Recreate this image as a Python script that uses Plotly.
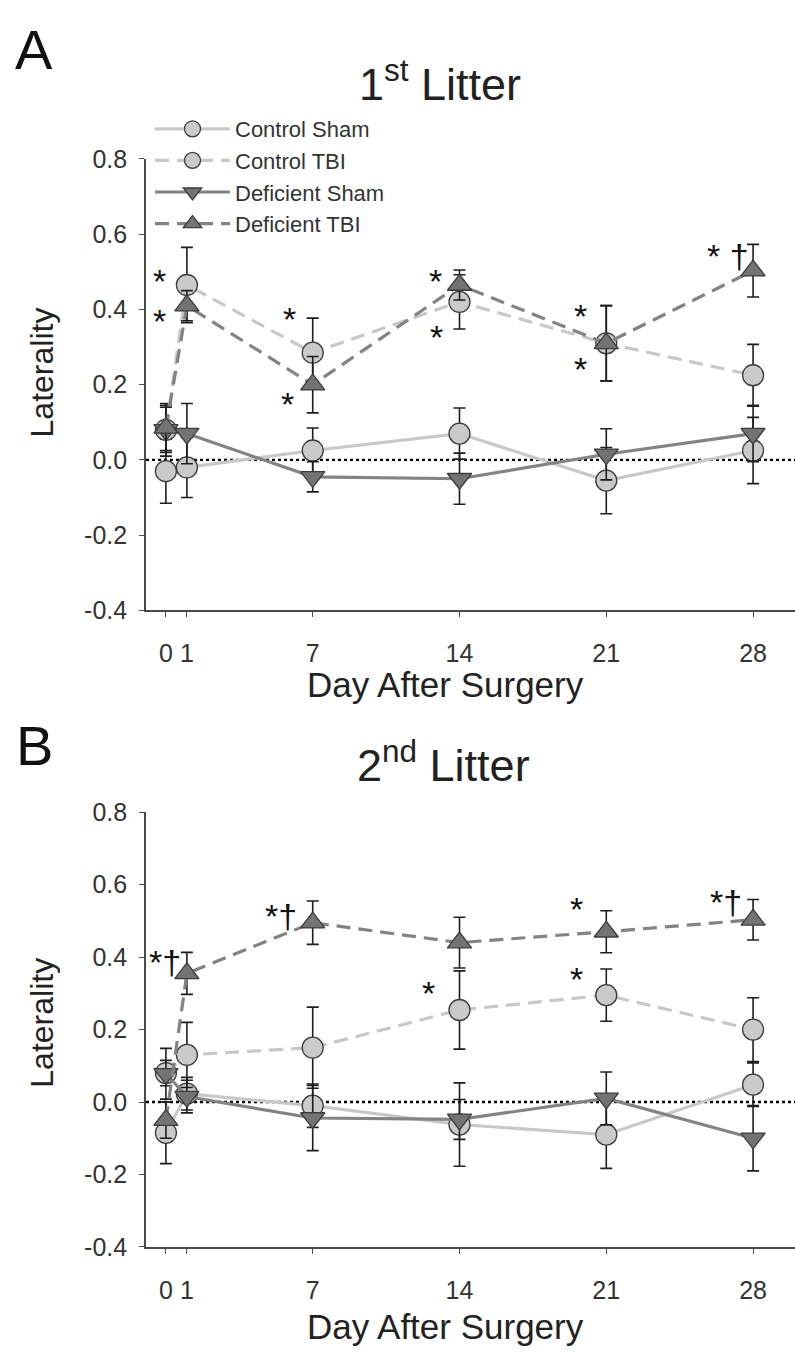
import plotly.graph_objects as go

DAYS = [0, 1, 7, 14, 21, 28]
DAY_LABELS = ["0", "1", "7", "14", "21", "28"]
Y_TICKS = [-0.4, -0.2, 0.0, 0.2, 0.4, 0.6, 0.8]
Y_LABELS = ["-0.4", "-0.2", "0.0", "0.2", "0.4", "0.6", "0.8"]

SERIES = ["Control Sham", "Control TBI", "Deficient Sham", "Deficient TBI"]

# 1st litter
ctrl_sham_A = [-0.03, -0.02, 0.025, 0.07, -0.055, 0.025]
ctrl_sham_A_err = [0.085, 0.08, 0.06, 0.068, 0.088, 0.088]
ctrl_tbi_A = [0.08, 0.465, 0.285, 0.42, 0.31, 0.225]
ctrl_tbi_A_err = [0.07, 0.10, 0.092, 0.072, 0.10, 0.082]
def_sham_A = [0.08, 0.07, -0.045, -0.05, 0.015, 0.07]
def_sham_A_err = [0.06, 0.08, 0.04, 0.068, 0.068, 0.075]
def_tbi_A = [0.085, 0.41, 0.20, 0.465, 0.31, 0.503]
def_tbi_A_err = [0.06, 0.04, 0.075, 0.04, 0.10, 0.07]

# 2nd litter
ctrl_sham_B = [-0.085, 0.023, -0.01, -0.062, -0.09, 0.048]
ctrl_sham_B_err = [0.085, 0.045, 0.06, 0.115, 0.093, 0.06]
ctrl_tbi_B = [0.08, 0.13, 0.15, 0.254, 0.295, 0.20]
ctrl_tbi_B_err = [0.035, 0.09, 0.112, 0.108, 0.072, 0.088]
def_sham_B = [0.078, 0.015, -0.044, -0.048, 0.01, -0.10]
def_sham_B_err = [0.07, 0.045, 0.09, 0.055, 0.073, 0.09]
def_tbi_B = [-0.05, 0.355, 0.495, 0.44, 0.47, 0.503]
def_tbi_B_err = [0.05, 0.058, 0.06, 0.07, 0.058, 0.056]

# significance marks: (day, value, text)
marks_A = [(-0.3, 0.478, "*"), (-0.3, 0.372, "*"), (5.9, 0.377, "*"), (5.8, 0.15, "*"),
           (12.85, 0.477, "*"), (12.9, 0.33, "*"), (19.75, 0.385, "*"), (19.75, 0.245, "*"),
           (26.8, 0.545, "* †")]
marks_B = [(-0.05, 0.39, "*†"), (5.5, 0.515, "*†"), (12.5, 0.305, "*"),
           (19.6, 0.536, "*"), (19.6, 0.343, "*"), (26.7, 0.555, "*†")]

FONT = "Liberation Sans, Arial, sans-serif"
LIGHT_LINE = "#c8c8c8"
LIGHT_FILL = "#cacaca"
DARK_LINE = "#838383"
DARK_FILL = "#737373"
EDGE = "#3c3c3c"

styles = {
    "Control Sham": dict(line=dict(color=LIGHT_LINE, width=3.2),
                         marker=dict(symbol="circle", size=21, color=LIGHT_FILL, line=dict(color=EDGE, width=1.3))),
    "Control TBI": dict(line=dict(color=LIGHT_LINE, width=3.2, dash="14px,8px"),
                        marker=dict(symbol="circle", size=21, color=LIGHT_FILL, line=dict(color=EDGE, width=1.3))),
    "Deficient Sham": dict(line=dict(color=DARK_LINE, width=3.2),
                           marker=dict(symbol="triangle-down", size=21, color=DARK_FILL, line=dict(color=EDGE, width=1.3))),
    "Deficient TBI": dict(line=dict(color=DARK_LINE, width=3.2, dash="14px,8px"),
                          marker=dict(symbol="triangle-up", size=21, color=DARK_FILL, line=dict(color=EDGE, width=1.3))),
}

panels = [
    ("x", "y", [ctrl_sham_A, ctrl_tbi_A, def_sham_A, def_tbi_A],
     [ctrl_sham_A_err, ctrl_tbi_A_err, def_sham_A_err, def_tbi_A_err], True),
    ("x2", "y2", [ctrl_sham_B, ctrl_tbi_B, def_sham_B, def_tbi_B],
     [ctrl_sham_B_err, ctrl_tbi_B_err, def_sham_B_err, def_tbi_B_err], False),
]

fig = go.Figure()
for xa, ya, vals, errs, show in panels:
    for name, v, e in zip(SERIES, vals, errs):
        st = styles[name]
        fig.add_trace(go.Scatter(
            x=DAYS, y=v, name=name, mode="lines+markers",
            line=st["line"], marker=st["marker"],
            error_y=dict(type="data", array=e, visible=True, color="#1e1e1e", thickness=1.6, width=6),
            xaxis=xa, yaxis=ya, showlegend=show, legendgroup=name,
        ))

H = 1355.0
W = 795.0
axis_common = dict(showgrid=False, zeroline=False, showline=True, linecolor="#4a4a4a", linewidth=1.6,
                   ticks="outside", tickcolor="#4a4a4a", ticklen=5, tickwidth=1.4,
                   tickfont=dict(family=FONT, size=25, color="#333333"))

x_dom = [146 / W, 1.0]
yA_dom = [1 - 609 / H, 1 - 148 / H]
yB_dom = [1 - 1259 / H, 1 - 815 / H]

fig.update_layout(
    width=795, height=1355, autosize=False,
    margin=dict(l=0, r=0, t=0, b=0),
    paper_bgcolor="white", plot_bgcolor="white",
    font=dict(family=FONT, color="#222222"),
    xaxis=dict(domain=x_dom, range=[-0.95, 30.0], tickvals=DAYS, ticktext=DAY_LABELS,
               anchor="y", ticklabelstandoff=15, **axis_common),
    yaxis=dict(domain=yA_dom, range=[-0.4, 0.8], tickvals=Y_TICKS, ticktext=Y_LABELS,
               anchor="x", ticklabelstandoff=7, **axis_common),
    xaxis2=dict(domain=x_dom, range=[-0.95, 30.0], tickvals=DAYS, ticktext=DAY_LABELS,
                anchor="y2", ticklabelstandoff=15, **axis_common),
    yaxis2=dict(domain=yB_dom, range=[-0.4, 0.8], tickvals=Y_TICKS, ticktext=Y_LABELS,
                anchor="x2", ticklabelstandoff=7, **axis_common),
    legend=dict(x=150 / W, y=1 - 96 / H, xanchor="left", yanchor="top",
                bgcolor="rgba(0,0,0,0)", font=dict(family=FONT, size=22, color="#333333"),
                itemwidth=75, tracegroupgap=0),
    showlegend=True,
)

# dotted zero lines
for xr, yr in [("x domain", "y"), ("x2 domain", "y2")]:
    fig.add_shape(type="line", xref=xr, yref=yr, x0=0, x1=1, y0=0, y1=0,
                  line=dict(color="black", width=2.4, dash="dot"), layer="below")

ann = []
# significance marks
for xr, yr, marks in [("x", "y", marks_A), ("x2", "y2", marks_B)]:
    for d, v, t in marks:
        ann.append(dict(x=d, y=v, xref=xr, yref=yr, text=t, showarrow=False,
                        xanchor="center", yanchor="middle", yshift=-1,
                        font=dict(family=FONT, size=34, color="#111111")))

# panel letters, titles, axis titles
ann += [
    dict(x=34 / W, y=1 - 36 / H, xref="paper", yref="paper", text="A", showarrow=False,
         xanchor="center", yanchor="middle", font=dict(family=FONT, size=56, color="#111111")),
    dict(x=440 / W, y=1 - 68 / H, xref="paper", yref="paper", text="1<sup>st</sup> Litter", showarrow=False,
         xanchor="center", yanchor="middle", font=dict(family=FONT, size=45, color="#222222")),
    dict(x=34 / W, y=1 - 747 / H, xref="paper", yref="paper", text="B", showarrow=False,
         xanchor="center", yanchor="middle", font=dict(family=FONT, size=56, color="#111111")),
    dict(x=443 / W, y=1 - 764 / H, xref="paper", yref="paper", text="2<sup>nd</sup> Litter", showarrow=False,
         xanchor="center", yanchor="middle", font=dict(family=FONT, size=45, color="#222222")),
    dict(x=445 / W, y=1 - 685 / H, xref="paper", yref="paper", text="Day After Surgery", showarrow=False,
         xanchor="center", yanchor="middle", font=dict(family=FONT, size=35, color="#222222")),
    dict(x=445 / W, y=1 - 1340 / H, xref="paper", yref="paper", text="Day After Surgery", showarrow=False,
         xanchor="center", yanchor="middle", font=dict(family=FONT, size=35, color="#222222")),
    dict(x=42 / W, y=1 - 366 / H, xref="paper", yref="paper", text="Laterality", showarrow=False,
         textangle=-90, xanchor="center", yanchor="middle", font=dict(family=FONT, size=32, color="#222222")),
    dict(x=42 / W, y=1 - 1030 / H, xref="paper", yref="paper", text="Laterality", showarrow=False,
         textangle=-90, xanchor="center", yanchor="middle", font=dict(family=FONT, size=32, color="#222222")),
]
fig.update_layout(annotations=ann)

fig.write_html("out.html")
